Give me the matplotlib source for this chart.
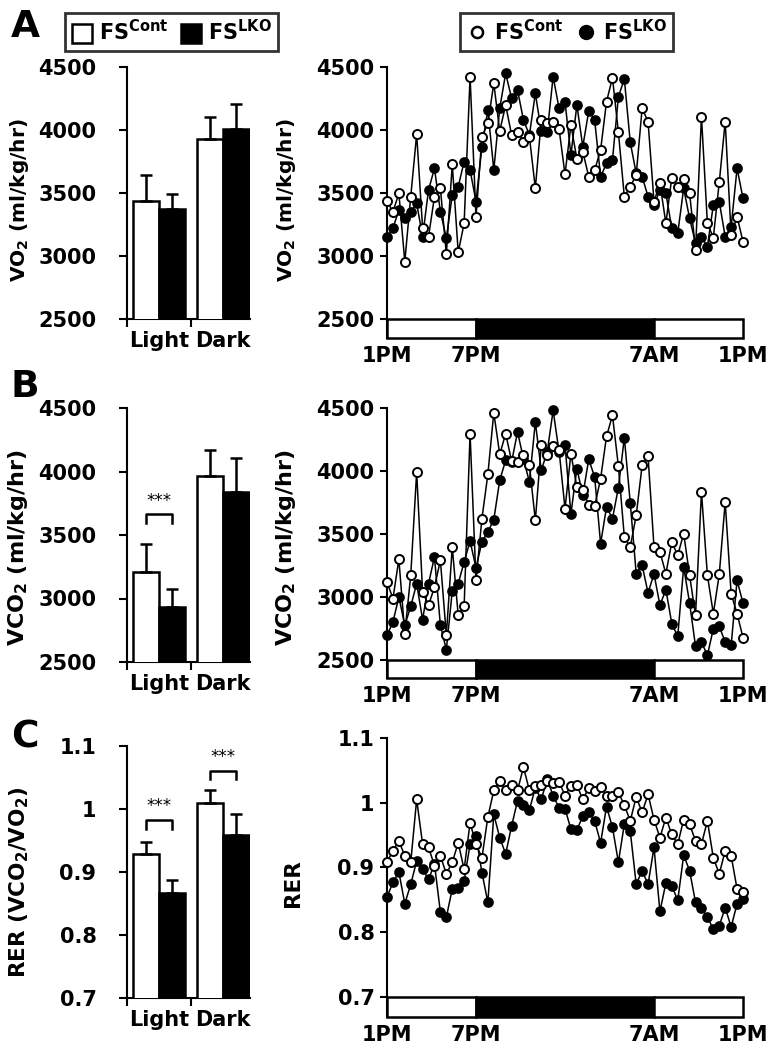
import numpy as np
import matplotlib
matplotlib.use("Agg")
import matplotlib.pyplot as plt
from matplotlib.patches import Patch, Rectangle
from matplotlib.lines import Line2D

plt.rcParams['font.family'] = ['DejaVu Sans']
plt.rcParams['font.weight'] = 'bold'
plt.rcParams['mathtext.fontset'] = 'dejavusans'

# ---- bar data (Light, Dark) ----
groups = ["Light", "Dark"]
vo2_cont = [3440, 3930]
vo2_cont_err = [205, 173]
vo2_lko = [3375, 4010]
vo2_lko_err = [118, 199]

vco2_cont = [3205, 3966]
vco2_cont_err = [224, 205]
vco2_lko = [2934, 3842]
vco2_lko_err = [137, 263]

rer_cont = [0.929, 1.010]
rer_cont_err = [0.019, 0.020]
rer_lko = [0.867, 0.959]
rer_lko_err = [0.020, 0.033]

# ---- time course data, 1PM -> 1PM ----
time_labels = ["1PM", "7PM", "7AM", "1PM"]
time_ticks = [0, 6, 18, 24]

vo2_t_cont = [3437, 3350, 3497, 2955, 3471, 3966, 3220, 3153, 3471, 3537,
              3016, 3727, 3029, 3259, 4423, 3312, 3947, 4053, 4370, 3992,
              4198, 3960, 3987, 3902, 3947, 3537, 4079, 4053, 4066, 4008,
              3648, 4040, 3770, 3828, 3630, 3683, 3841, 4225, 4415, 3981,
              3471, 3550, 3643, 4172, 4066, 3431, 3577, 3259, 3622, 3550,
              3611, 3500, 3048, 4106, 3259, 3146, 3585, 4066, 3167, 3312,
              3114]
vo2_t_lko = [3153, 3220, 3365, 3299, 3352, 3418, 3153, 3524, 3696, 3352,
             3140, 3484, 3550, 3749, 3683, 3431, 3868, 4159, 3683, 4172,
             4450, 4251, 4317, 4079, 3960, 4291, 3992, 3981, 4423, 4172,
             4225, 3802, 4198, 3868, 4151, 4079, 3630, 3735, 3762, 4264,
             4405, 3902, 3656, 3630, 3471, 3405, 3524, 3497, 3220, 3180,
             3537, 3299, 3101, 3153, 3074, 3405, 3431, 3153, 3233, 3696,
             3458]

vco2_t_cont = [3119, 2987, 3299, 2709, 3172, 3992, 3040, 2934, 3079, 3291,
               2696, 3397, 2854, 2926, 4296, 3132, 3622, 3974, 4463, 4132,
               4296, 4079, 4071, 4124, 4045, 3608, 4204, 4124, 4196, 4164,
               3701, 4138, 3873, 3847, 3728, 3720, 3939, 4275, 4442, 4037,
               3476, 3397, 3648, 4045, 4116, 3397, 3357, 3185, 3436, 3331,
               3503, 3172, 2854, 3833, 3172, 2868, 3180, 3754, 3026, 2868,
               2677]
vco2_t_lko = [2696, 2801, 3000, 2775, 2926, 3106, 2820, 3106, 3318, 2775,
              2582, 3048, 3106, 3278, 3444, 3233, 3436, 3516, 3614, 3926,
              4085, 4071, 4310, 4098, 3913, 4389, 4005, 4151, 4481, 4151,
              4204, 3661, 4019, 3807, 4093, 3952, 3423, 3714, 3622, 3868,
              4265, 3746, 3185, 3251, 3032, 3185, 2934, 3059, 2788, 2688,
              3238, 2952, 2608, 2642, 2537, 2748, 2767, 2642, 2616, 3132,
              2952]

rer_t_cont = [0.908, 0.926, 0.941, 0.918, 0.908, 1.005, 0.936, 0.931, 0.903, 0.918,
              0.890, 0.908, 0.938, 0.897, 0.969, 0.936, 0.915, 0.978, 1.019, 1.034,
              1.019, 1.028, 1.019, 1.055, 1.019, 1.026, 1.028, 1.033, 1.031, 1.032,
              1.011, 1.026, 1.027, 1.005, 1.023, 1.018, 1.025, 1.011, 1.010, 1.016,
              0.996, 0.972, 1.009, 0.985, 1.013, 0.974, 0.946, 0.977, 0.951, 0.936,
              0.974, 0.967, 0.941, 0.936, 0.972, 0.915, 0.890, 0.926, 0.918, 0.867,
              0.862]
rer_t_lko = [0.854, 0.877, 0.893, 0.844, 0.874, 0.910, 0.897, 0.882, 0.905, 0.831,
             0.823, 0.867, 0.868, 0.879, 0.936, 0.949, 0.892, 0.846, 0.982, 0.946,
             0.921, 0.964, 1.003, 0.996, 0.989, 1.023, 1.005, 1.036, 1.011, 0.992,
             0.991, 0.959, 0.958, 0.979, 0.985, 0.972, 0.938, 0.994, 0.962, 0.908,
             0.967, 0.956, 0.874, 0.895, 0.874, 0.931, 0.832, 0.876, 0.872, 0.849,
             0.919, 0.895, 0.846, 0.837, 0.823, 0.805, 0.810, 0.838, 0.808, 0.844,
             0.851]

W, H = 773, 1050
fig = plt.figure(figsize=(W / 100, H / 100), dpi=100)


def box(x0, y_top, x1, y_bot):
    return [x0 / W, 1 - y_bot / H, (x1 - x0) / W, (y_bot - y_top) / H]


FS = 15


def bar_panel(rect, cont, cerr, lko, lerr, ylim, yticks, ylabels, sig=()):
    ax = fig.add_axes(rect)
    centers = np.array([1.0, 2.0])
    w = 0.4
    kw = dict(width=w, edgecolor="black", linewidth=1.8, zorder=3,
              error_kw=dict(elinewidth=1.8, capthick=1.8, ecolor="black"), capsize=4)
    ax.bar(centers - w / 2, cont, color="white",
           yerr=[[0, 0], cerr], **kw)
    ax.bar(centers + w / 2, lko, color="black",
           yerr=[[0, 0], lerr], **kw)
    ax.set_xlim(0.5, 2.42)
    ax.set_ylim(*ylim)
    ax.set_yticks(yticks)
    ax.set_yticklabels(ylabels, fontsize=FS, fontweight="bold")
    ax.set_xticks([0.5, 1.5])
    ax.set_xticklabels([])
    ax.set_xticks(centers, minor=True)
    ax.set_xticklabels(groups, minor=True, fontsize=FS, fontweight="bold")
    ax.tick_params(axis="x", which="minor", length=0, pad=9)
    ax.tick_params(axis="x", which="major", length=6, width=1.5)
    ax.tick_params(axis="y", length=6, width=1.5, pad=16)
    for s in ["top", "right"]:
        ax.spines[s].set_visible(False)
    for s in ["left", "bottom"]:
        ax.spines[s].set_linewidth(1.5)
    span = ylim[1] - ylim[0]
    for gi, top, star_y in sig:
        x0, x1 = centers[gi] - w / 2, centers[gi] + w / 2
        leg = span * 0.035
        ax.plot([x0, x0, x1, x1], [top - leg, top, top, top - leg],
                color="black", lw=1.8, zorder=4)
        ax.text(centers[gi], star_y, "***", ha="center", va="center",
                fontsize=12, fontweight="normal")
    return ax


def time_panel(rect, cont, lko, ylim, yticks, ylabels, bar_top):
    ax = fig.add_axes(rect)
    t_l = np.linspace(0, 24, len(lko))
    t_c = np.linspace(0, 24, len(cont))
    ax.plot(t_l, lko, "-o", color="black", mfc="black", mec="black",
            ms=6.5, mew=1.2, lw=1.1, zorder=3, clip_on=False)
    ax.plot(t_c, cont, "-o", color="black", mfc="white", mec="black",
            ms=6.5, mew=1.4, lw=1.1, zorder=4, clip_on=False)
    ax.set_xlim(0, 24)
    ax.set_ylim(*ylim)
    ax.set_yticks(yticks)
    ax.set_yticklabels(ylabels, fontsize=FS, fontweight="bold")
    ax.tick_params(axis="y", length=5, width=1.5, pad=4)
    ax.set_xticks(time_ticks)
    ax.set_xticklabels(time_labels, fontsize=FS, fontweight="bold")
    ax.tick_params(axis="x", length=0, pad=6)
    for s in ["top", "right", "bottom"]:
        ax.spines[s].set_visible(False)
    ax.spines["left"].set_linewidth(1.5)
    h = bar_top - ylim[0]
    for x0, x1, c in [(0, 6, "white"), (6, 18, "black"), (18, 24, "white")]:
        ax.add_patch(Rectangle((x0, ylim[0]), x1 - x0, h, facecolor=c,
                               edgecolor="black", lw=1.8, zorder=5, clip_on=False))
    return ax


gas_ticks = [2500, 3000, 3500, 4000, 4500]
gas_labels = [str(v) for v in gas_ticks]
rer_ticks = [0.7, 0.8, 0.9, 1.0, 1.1]
rer_labels = ["0.7", "0.8", "0.9", "1", "1.1"]

# A
axA = bar_panel(box(127, 67, 250, 319), vo2_cont, vo2_cont_err, vo2_lko, vo2_lko_err,
                (2500, 4500), gas_ticks, gas_labels)
axA2 = time_panel(box(387, 67, 743, 338), vo2_t_cont, vo2_t_lko,
                  (2349, 4500), gas_ticks, gas_labels, 2500)
# B
axB = bar_panel(box(127, 408, 250, 662), vco2_cont, vco2_cont_err, vco2_lko, vco2_lko_err,
                (2500, 4500), gas_ticks, gas_labels,
                sig=[(0, 3666, 3770)])
axB2 = time_panel(box(387, 408, 743, 678), vco2_t_cont, vco2_t_lko,
                  (2357, 4500), gas_ticks, gas_labels, 2500)
# C
axC = bar_panel(box(127, 746, 250, 998), rer_cont, rer_cont_err, rer_lko, rer_lko_err,
                (0.7, 1.1), rer_ticks, rer_labels,
                sig=[(0, 0.983, 1.004), (1, 1.061, 1.082)])
axC2 = time_panel(box(387, 738, 743, 1017), rer_t_cont, rer_t_lko,
                  (0.669, 1.1), rer_ticks, rer_labels, 0.7)

# y labels
lab = dict(rotation=90, ha="center", va="center", fontweight="bold")
fig.text(20 / W, 1 - 200 / H, r"VO$_\mathbf{2}$ (ml/kg/hr)", fontsize=14.5, **lab)
fig.text(286 / W, 1 - 200 / H, r"VO$_\mathbf{2}$ (ml/kg/hr)", fontsize=14.5, **lab)
fig.text(18 / W, 1 - 548 / H, r"VCO$_\mathbf{2}$ (ml/kg/hr)", fontsize=16, **lab)
fig.text(286 / W, 1 - 548 / H, r"VCO$_\mathbf{2}$ (ml/kg/hr)", fontsize=16, **lab)
fig.text(19 / W, 1 - 882 / H, r"RER (VCO$_\mathbf{2}$/VO$_\mathbf{2}$)", fontsize=15.5, **lab)
fig.text(293 / W, 1 - 883 / H, "RER", fontsize=15.5, **lab)

# panel letters
for letter, y in [("A", 27), ("B", 387), ("C", 737)]:
    fig.text(25 / W, 1 - y / H, letter, ha="center", va="center",
             fontsize=27, fontweight="bold")

# legends
bar_handles = [Patch(facecolor="white", edgecolor="black", lw=1.8),
               Patch(facecolor="black", edgecolor="black", lw=1.8)]
pt_handles = [Line2D([], [], ls="none", marker="o", ms=8, mfc="white", mec="black", mew=1.8),
              Line2D([], [], ls="none", marker="o", ms=10, mfc="black", mec="black")]
names = [r"FS$^{\mathrm{Cont}}$", r"FS$^{\mathrm{LKO}}$"]
for handles, x0, x1 in [(bar_handles, 58, 285), (pt_handles, 450, 683)]:
    leg = fig.legend(handles, names, ncol=2, loc="center",
                     bbox_to_anchor=((x0 + x1) / 2 / W, 1 - 32 / H),
                     frameon=True, fancybox=False, edgecolor="black",
                     prop=dict(size=15, weight="bold"), handlelength=1.0,
                     handleheight=1.0, handletextpad=0.3, columnspacing=0.6,
                     borderpad=0.3, borderaxespad=0)
    leg.get_frame().set_linewidth(2)

fig.savefig("out.png", dpi=100)
